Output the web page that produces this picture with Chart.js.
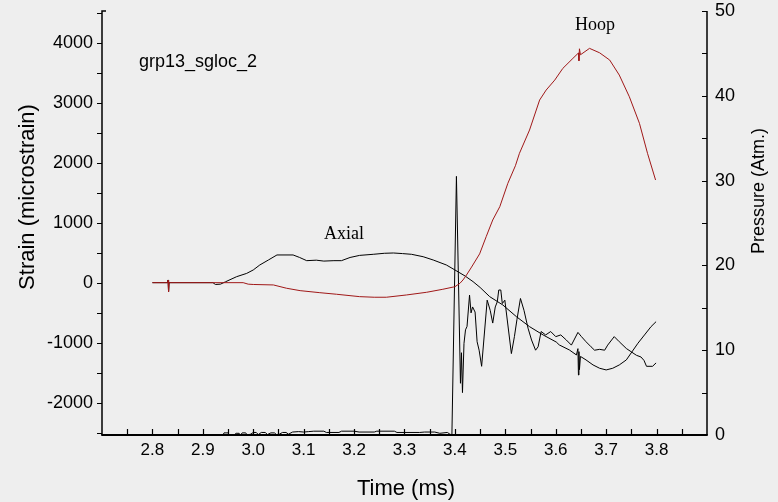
<!DOCTYPE html>
<html lang="en">
<head>
<meta charset="utf-8">
<title>grp13_sgloc_2</title>
<script src="https://cdn.jsdelivr.net/npm/chart.js@4.4.1/dist/chart.umd.min.js"></script>
<style>
  html, body { margin: 0; padding: 0; background: #eeeeee; }
  #wrap { width: 778px; height: 502px; }
</style>
</head>
<body>
<div id="wrap"><canvas id="strainChart" width="778" height="502"></canvas></div>
<script>
// Hoop strain (microstrain) vs time (ms)
const hoopTime = [2.800, 2.830, 2.831, 2.832, 2.833, 2.980, 2.990, 3.000, 3.040, 3.066, 3.093, 3.132,
  3.165, 3.211, 3.240, 3.264, 3.304, 3.344, 3.376, 3.400, 3.410, 3.416, 3.423, 3.433, 3.449, 3.462,
  3.475, 3.489, 3.505, 3.520, 3.528, 3.548, 3.568, 3.581, 3.598, 3.614, 3.634, 3.645, 3.646, 3.647,
  3.649, 3.667, 3.687, 3.707, 3.726, 3.746, 3.766, 3.782, 3.798];
const hoopStrain = [0, 0, 40, -150, 0, 0, -25, -30, -38, -93, -133, -167,
  -193, -233, -243, -243, -205, -160, -110, -67, -10, 45, 128, 260, 480, 767,
  1045, 1267, 1657, 1950, 2157, 2545, 3045, 3212, 3378, 3573, 3740, 3830, 3700, 3900,
  3800, 3907, 3833, 3712, 3462, 3100, 2657, 2157, 1712];

// Axial strain (microstrain) vs time (ms)
const axialTime = [2.800, 2.830, 2.831, 2.832, 2.833, 2.920, 2.925, 2.935, 2.945, 2.967, 2.987, 3.000,
  3.013, 3.030, 3.047, 3.079, 3.092, 3.106, 3.125, 3.140, 3.160, 3.175, 3.192, 3.211, 3.238, 3.260,
  3.278, 3.296, 3.314, 3.337, 3.357, 3.383, 3.400, 3.420, 3.436, 3.450, 3.469, 3.495, 3.522, 3.548,
  3.575, 3.601, 3.607, 3.627, 3.641, 3.644, 3.645, 3.646, 3.647, 3.649, 3.660, 3.674, 3.687, 3.700,
  3.713, 3.726, 3.740, 3.763, 3.776, 3.789, 3.799];
const axialStrain = [0, 0, 45, -150, 0, 0, -30, -25, 15, 100, 155, 212,
  295, 378, 462, 462, 420, 367, 375, 360, 367, 367, 420, 455, 473, 490,
  495, 485, 473, 433, 378, 295, 212, 112, 17, -80, -233, -372, -567, -733,
  -872, -990, -1038, -1122, -1205, -1100, -1540, -1150, -1450, -1230, -1288, -1372, -1427, -1455,
  -1427, -1372, -1288, -1010, -872, -733, -650];

// Pressure (Atm.) vs time (ms)
const pressureTime = [2.940, 2.942, 2.950, 2.953, 2.962, 2.966, 2.972, 2.975, 2.978, 2.985, 2.988, 2.995,
  3.000, 3.006, 3.010, 3.016, 3.024, 3.028, 3.035, 3.042, 3.046, 3.052, 3.058, 3.065, 3.070, 3.078,
  3.090, 3.100, 3.110, 3.120, 3.140, 3.145, 3.170, 3.175, 3.200, 3.210, 3.240, 3.245, 3.280, 3.285,
  3.330, 3.340, 3.360, 3.370, 3.385, 3.390, 3.394, 3.403, 3.411, 3.413, 3.415, 3.418, 3.421, 3.424,
  3.429, 3.432, 3.435, 3.440, 3.444, 3.448, 3.453, 3.464, 3.470, 3.475, 3.480, 3.484, 3.487, 3.491,
  3.494, 3.499, 3.512, 3.518, 3.523, 3.530, 3.537, 3.545, 3.552, 3.560, 3.565, 3.571, 3.580, 3.590,
  3.600, 3.610, 3.621, 3.631, 3.644, 3.651, 3.660, 3.670, 3.677, 3.687, 3.697, 3.703, 3.716, 3.726,
  3.740, 3.750, 3.760, 3.769, 3.775, 3.780, 3.792, 3.799];
const pressureAtm = [0.0, 0.25, 0.25, 0.0, 0.0, 0.2, 0.2, 0.0, 0.25, 0.25, 0.0, 0.1,
  0.3, 0.3, 0.05, 0.3, 0.3, 0.05, 0.25, 0.25, 0.05, 0.1, 0.3, 0.3, 0.1, 0.35,
  0.4, 0.35, 0.4, 0.45, 0.45, 0.3, 0.3, 0.45, 0.45, 0.35, 0.35, 0.45, 0.45, 0.3,
  0.3, 0.35, 0.35, 0.2, 0.3, 0.1, 0.0, 30.5, 6.1, 9.7, 5.0, 10.8, 12.4, 12.8,
  16.5, 14.4, 15.1, 14.5, 11.0, 10.0, 8.1, 15.9, 14.7, 13.2, 15.1, 15.7, 17.1, 17.1,
  15.5, 15.9, 9.6, 11.6, 13.6, 16.1, 14.7, 12.6, 11.2, 10.0, 10.4, 12.2, 11.8, 12.2,
  11.6, 11.8, 11.2, 10.6, 12.1, 11.6, 11.0, 10.4, 10.0, 10.1, 10.0, 10.6, 11.6, 11.0,
  10.2, 9.8, 9.4, 9.2, 8.8, 8.1, 8.1, 8.5];

// Tick marks and the subset of them that carry a label
const timeTicks = [2.75, 2.8, 2.85, 2.9, 2.95, 3.0, 3.05, 3.1, 3.15, 3.2, 3.25, 3.3, 3.35,
  3.4, 3.45, 3.5, 3.55, 3.6, 3.65, 3.7, 3.75, 3.8, 3.85];
const timeLabels = [2.8, 2.9, 3.0, 3.1, 3.2, 3.3, 3.4, 3.5, 3.6, 3.7, 3.8];
const strainTicks = [-2500, -2000, -1500, -1000, -500, 0, 500, 1000, 1500, 2000, 2500, 3000,
  3500, 4000, 4500];
const strainLabels = [-2000, -1000, 0, 1000, 2000, 3000, 4000];
const pressureTicks = [0, 5, 10, 15, 20, 25, 30, 35, 40, 45, 50];
const pressureLabels = [0, 10, 20, 30, 40, 50];

const SANS = '"Liberation Sans", Arial, sans-serif';
const SERIF = '"Liberation Serif", "Times New Roman", serif';

function toPoints(xs, ys) {
  return xs.map((x, i) => ({ x: x, y: ys[i] }));
}

function hasLabel(list, v) {
  return list.some(l => Math.abs(l - v) < 1e-6);
}

// fixed tick list, and no extra room asked for the end labels
function fixTicks(list) {
  return s => { s.ticks = list.map(v => ({ value: v })); };
}
function fitBox(size) {
  return s => {
    if (s.isHorizontal()) s.height = size; else s.width = size;
    s.paddingTop = 0;
    s.paddingBottom = 0;
    s.paddingLeft = 0;
    s.paddingRight = 0;
  };
}

/**
 * Draws the background, the three axis lines with their tick marks,
 * the axis titles and the text notes inside the plot.
 */
const framePlugin = {
  id: "frame",
  beforeDraw(chart) {
    const ctx = chart.ctx;
    ctx.save();
    ctx.fillStyle = "#eeeeee";
    ctx.fillRect(0, 0, chart.width, chart.height);
    ctx.restore();
  },
  afterDraw(chart) {
    const ctx = chart.ctx;
    const { left, right, top, bottom } = chart.chartArea;
    const xs = chart.scales.x;
    const ys = chart.scales.y;
    const ps = chart.scales.y2;

    ctx.save();
    ctx.strokeStyle = "#000";

    // axis lines
    ctx.lineWidth = 1.5;
    ctx.beginPath();
    ctx.moveTo(left + 4, top);
    ctx.lineTo(left, top);
    ctx.lineTo(left, bottom);
    ctx.moveTo(right, top);
    ctx.lineTo(right, bottom);
    ctx.stroke();
    ctx.lineWidth = 2;
    ctx.beginPath();
    ctx.moveTo(left - 0.75, bottom);
    ctx.lineTo(right + 0.75, bottom);
    ctx.stroke();

    // tick marks: left outward, right and bottom inward
    ctx.lineWidth = 1.2;
    ctx.beginPath();
    ys.ticks.forEach(t => {
      const py = Math.round(ys.getPixelForValue(t.value)) + 0.5;
      ctx.moveTo(left - 5, py);
      ctx.lineTo(left, py);
    });
    ps.ticks.forEach(t => {
      const py = Math.round(ps.getPixelForValue(t.value)) + 0.5;
      ctx.moveTo(right - 5, py);
      ctx.lineTo(right, py);
    });
    xs.ticks.forEach(t => {
      const px = Math.round(xs.getPixelForValue(t.value)) + 0.5;
      ctx.moveTo(px, bottom);
      ctx.lineTo(px, bottom - 6);
    });
    ctx.stroke();

    // axis titles
    ctx.fillStyle = "#000";
    ctx.textAlign = "center";
    ctx.textBaseline = "middle";
    ctx.font = "22px " + SANS;
    ctx.fillText("Time (ms)", 406, 489);

    ctx.save();
    ctx.translate(28, 197);
    ctx.rotate(-Math.PI / 2);
    ctx.fillText("Strain (microstrain)", 0, 0);
    ctx.restore();

    ctx.save();
    ctx.translate(759, 191);
    ctx.rotate(-Math.PI / 2);
    ctx.font = "18px " + SANS;
    ctx.fillText("Pressure (Atm.)", 0, 0);
    ctx.restore();

    // notes inside the plot
    ctx.textBaseline = "alphabetic";
    ctx.textAlign = "left";
    ctx.font = "18px " + SANS;
    ctx.fillText("grp13_sgloc_2", 139, 67);
    ctx.textAlign = "center";
    ctx.font = "18px " + SERIF;
    ctx.fillText("Axial", 344, 239);
    ctx.fillText("Hoop", 595, 30);

    ctx.restore();
  }
};

const ctx = document.getElementById("strainChart").getContext("2d");
new Chart(ctx, {
  type: "scatter",
  data: {
    datasets: [
      {
        label: "Hoop",
        data: toPoints(hoopTime, hoopStrain),
        yAxisID: "y",
        showLine: true,
        borderColor: "#a01818",
        borderWidth: 1,
        pointRadius: 0,
        tension: 0
      },
      {
        label: "Axial",
        data: toPoints(axialTime, axialStrain),
        yAxisID: "y",
        showLine: true,
        borderColor: "#000000",
        borderWidth: 1,
        pointRadius: 0,
        tension: 0
      },
      {
        label: "Pressure",
        data: toPoints(pressureTime, pressureAtm),
        yAxisID: "y2",
        showLine: true,
        borderColor: "#000000",
        borderWidth: 1,
        pointRadius: 0,
        tension: 0
      }
    ]
  },
  options: {
    responsive: false,
    animation: false,
    layout: { padding: { top: 11, left: 0, right: 0, bottom: 0 } },
    plugins: {
      legend: { display: false },
      tooltip: { enabled: false }
    },
    scales: {
      x: {
        type: "linear",
        min: 2.7,
        max: 3.9,
        grid: { display: false, drawTicks: false },
        border: { display: false },
        afterBuildTicks: fixTicks(timeTicks),
        afterFit: fitBox(67),
        ticks: {
          autoSkip: false,
          maxRotation: 0,
          padding: 5,
          color: "#000",
          font: { family: SANS, size: 17 },
          callback: v => hasLabel(timeLabels, v) ? Number(v).toFixed(1) : ""
        }
      },
      y: {
        type: "linear",
        position: "left",
        min: -2540,
        max: 4530,
        grid: { display: false, drawTicks: false },
        border: { display: false },
        afterBuildTicks: fixTicks(strainTicks),
        afterFit: fitBox(102),
        ticks: {
          autoSkip: false,
          padding: 9,
          color: "#000",
          font: { family: SANS, size: 18 },
          callback: v => hasLabel(strainLabels, v) ? String(v) : ""
        }
      },
      y2: {
        type: "linear",
        position: "right",
        min: 0,
        max: 50,
        grid: { display: false, drawTicks: false },
        border: { display: false },
        afterBuildTicks: fixTicks(pressureTicks),
        afterFit: fitBox(71),
        ticks: {
          autoSkip: false,
          padding: 8,
          color: "#000",
          font: { family: SANS, size: 18 },
          callback: v => hasLabel(pressureLabels, v) ? String(v) : ""
        }
      }
    }
  },
  plugins: [framePlugin]
});
</script>
</body>
</html>
